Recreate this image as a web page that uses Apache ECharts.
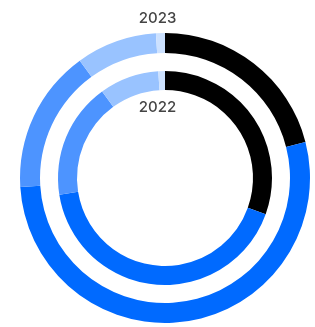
<!DOCTYPE html>
<html>
<head>
    <meta charset="utf-8">
    <title>ECharts</title>
    <script src="https://cdn.jsdelivr.net/npm/echarts@6/dist/echarts.min.js"></script>
    <style>
        html, body { margin: 0; padding: 0; background: #fff; }
    </style>
</head>
<body>
    <div id="main" style="width: 315px;height:327px;"></div>
    <script type="text/javascript">
        // 数据
        var years = ['2023', '2022'];
        var segments = ['A', 'B', 'C', 'D', 'E'];
        var values2023 = [21, 53, 16, 9, 1];
        var values2022 = [30.5, 42, 17.5, 9, 1];
        var colors = ['#000000', '#006aff', '#4d94ff', '#99c3ff', '#cce1ff'];

        function toData(vals) {
            return segments.map(function (name, i) {
                return { name: name, value: vals[i] };
            });
        }

        var myChart = echarts.init(document.getElementById('main'));

        var titleStyle = { fontSize: 15, fontWeight: 500, color: '#444', fontFamily: 'Inter' };

        var option = {
            animation: false,
            color: colors,
            title: [
                { text: years[0], left: 'center', top: 6, textStyle: titleStyle },
                { text: years[1], left: 'center', top: 95, textStyle: titleStyle }
            ],
            series: [
                {
                    name: years[0],
                    type: 'pie',
                    center: [165, 178],
                    radius: [125, 145],
                    startAngle: 90,
                    label: { show: false },
                    labelLine: { show: false },
                    silent: true,
                    data: toData(values2023)
                },
                {
                    name: years[1],
                    type: 'pie',
                    center: [165, 178],
                    radius: [88, 107],
                    startAngle: 90,
                    label: { show: false },
                    labelLine: { show: false },
                    silent: true,
                    data: toData(values2022)
                }
            ]
        };

        myChart.setOption(option);
    </script>
</body>
</html>
